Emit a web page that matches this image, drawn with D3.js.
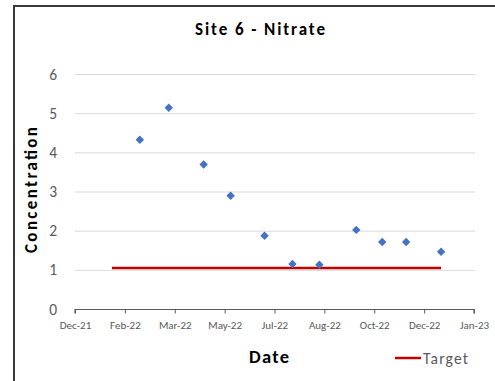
<!DOCTYPE html>
<html><head><meta charset="utf-8">
<script src="https://cdn.jsdelivr.net/npm/d3@7"></script>
<style>body{margin:0;background:#fff;} svg{display:block;}</style>
</head><body>
<svg id="c" width="495" height="381"></svg>
<script>
const sampleDates = ["2022-02-23","2022-03-24","2022-04-28","2022-05-25","2022-06-28","2022-07-26","2022-08-22","2022-09-28","2022-10-24","2022-11-17","2022-12-22"];
const nitrate = [4.32, 5.14, 3.69, 2.89, 1.87, 1.15, 1.13, 2.02, 1.71, 1.71, 1.46];
const targetDates = ["2022-01-26","2022-12-22"];
const targetValues = [1.05, 1.05];
const yTicks = [0,1,2,3,4,5,6];
const xTickDates = ["2021-12-20","2022-02-08","2022-03-30","2022-05-19","2022-07-08","2022-08-27","2022-10-16","2022-12-05","2023-01-24"];

const parse = d3.timeParse("%Y-%m-%d");
const svg = d3.select("#c");
const font = "Carlito, Calibri, 'Liberation Sans Narrow', 'Liberation Sans', Arial, sans-serif";

// frame
svg.append("path").attr("d","M14,381 V6 H495").attr("fill","none").attr("stroke","#3a3a3a").attr("stroke-width",2);

const x = d3.scaleTime().domain([parse(xTickDates[0]), parse(xTickDates[xTickDates.length-1])]).range([75, 474]);
const y = d3.scaleLinear().domain([0,6]).range([309, 74]);

// gridlines
svg.append("g").selectAll("line").data(yTicks.filter(d=>d>0)).join("line")
  .attr("x1",75).attr("x2",475).attr("y1",d=>y(d)+0.5).attr("y2",d=>y(d)+0.5)
  .attr("stroke","#d9d9d9").attr("stroke-width",1);

// y labels
svg.append("g").selectAll("text").data(yTicks).join("text")
  .attr("x",57).attr("y",d=>y(d)+5.5).attr("text-anchor","end")
  .attr("font-family",font).attr("font-size",15.5).attr("fill","#595959").text(d=>d);

// x axis
const xAxis = d3.axisBottom(x).tickValues(xTickDates.map(parse)).tickSize(4).tickFormat(d3.timeFormat("%b-%y"));
const gx = svg.append("g").attr("transform","translate(0,309.5)").call(xAxis);
gx.select(".domain").attr("stroke","#595959").attr("stroke-width",1.2).attr("d","M75,4V0H474V4");
gx.selectAll(".tick line").attr("stroke","#595959");
gx.selectAll(".tick text").attr("font-family",font).attr("font-size",11).attr("fill","#595959")
  .attr("y",0).attr("dy",0).attr("transform","translate(0,19)");

// target line
const line = d3.line().x(d=>x(d[0])).y(d=>y(d[1]));
svg.append("path").datum(targetDates.map((d,i)=>[parse(d), targetValues[i]]))
  .attr("d",line).attr("stroke","#c00000").attr("stroke-width",2.5).attr("fill","none");

// points
const diamond = d3.symbol().type(d3.symbolDiamond2).size(45);
svg.append("g").selectAll("path").data(sampleDates.map((d,i)=>[parse(d), nitrate[i]])).join("path")
  .attr("d",diamond).attr("transform",d=>`translate(${x(d[0])},${y(d[1])})`).attr("fill","#4472c4");

// title
svg.append("text").attr("x",260).attr("y",35).attr("text-anchor","middle")
  .attr("font-family",font).attr("font-weight","bold").attr("font-size",17).attr("fill","#000")
  .attr("textLength",130).attr("lengthAdjust","spacing").text("Site 6 - Nitrate");
// axis titles
svg.append("text").attr("x",269).attr("y",363).attr("text-anchor","middle")
  .attr("font-family",font).attr("font-weight","bold").attr("font-size",18.5).attr("fill","#000")
  .attr("textLength",40).attr("lengthAdjust","spacing").text("Date");
svg.append("text").attr("transform","translate(36.5,190) rotate(-90)").attr("text-anchor","middle")
  .attr("font-family",font).attr("font-weight","bold").attr("font-size",17).attr("fill","#000")
  .attr("textLength",126).attr("lengthAdjust","spacing").text("Concentration");

// legend
svg.append("line").attr("x1",395).attr("x2",421).attr("y1",358).attr("y2",358).attr("stroke","#c00000").attr("stroke-width",2.5);
svg.append("text").attr("x",423).attr("y",363.5).attr("font-family",font).attr("font-size",15.5).attr("fill","#595959")
  .attr("textLength",45).attr("lengthAdjust","spacing").text("Target");
</script>
</body></html>
